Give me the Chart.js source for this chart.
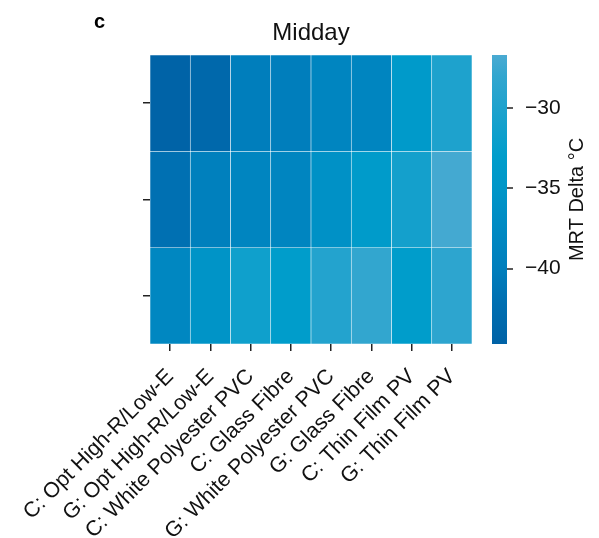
<!DOCTYPE html>
<html>
<head>
<meta charset="utf-8">
<script src="https://cdn.jsdelivr.net/npm/chart.js@4"></script>
<style>
  body { margin: 0; background: #fff; }
  canvas { display: block; }
</style>
</head>
<body>
<canvas id="heatChart" width="599" height="538"></canvas>
<script>
// heatmap data, rows top to bottom
var columns = ['C: Opt High-R/Low-E', 'G: Opt High-R/Low-E', 'C: White Polyester PVC', 'C: Glass Fibre',
  'G: White Polyester PVC', 'G: Glass Fibre', 'C: Thin Film PV', 'G: Thin Film PV'];
var rowLabels = ['', '', '']; // rows have no names in the figure
var row1 = [-44.5, -43.5, -40.0, -40.0, -38.5, -38.5, -34.0, -30.0];
var row2 = [-42.0, -39.5, -38.5, -38.5, -36.0, -33.5, -31.0, -27.0];
var row3 = [-38.0, -35.5, -31.5, -33.0, -29.5, -28.0, -33.0, -28.5];
var rows = [row1, row2, row3];

// colorbar
var cbMin = -44.7;
var cbMax = -26.7;
var cbTicks = [-40, -35, -30];
var cbStops = [
  [-44.7, [0, 98, 166]],
  [-42, [0, 112, 178]],
  [-40, [0, 126, 188]],
  [-37, [0, 140, 196]],
  [-35, [0, 150, 200]],
  [-33, [0, 157, 203]],
  [-30, [30, 162, 205]],
  [-28, [50, 166, 207]],
  [-26.7, [74, 170, 210]]
];

function colorFor(v) {
  if (v <= cbStops[0][0]) return 'rgb(' + cbStops[0][1].join(',') + ')';
  for (var i = 1; i < cbStops.length; i++) {
    if (v <= cbStops[i][0]) {
      var a = cbStops[i - 1], b = cbStops[i];
      var t = (v - a[0]) / (b[0] - a[0]);
      var c = a[1].map(function (x, k) { return Math.round(x + (b[1][k] - x) * t); });
      return 'rgb(' + c.join(',') + ')';
    }
  }
  return 'rgb(' + cbStops[cbStops.length - 1][1].join(',') + ')';
}

var FONT = "'Liberation Sans', Arial, Helvetica, sans-serif";

var colorbarPlugin = {
  id: 'colorbar',
  afterDraw: function (chart) {
    var ctx = chart.ctx;
    var s = chart.scales.cb;
    var x0 = 492, w = 15;
    var top = s.getPixelForValue(cbMax), bot = s.getPixelForValue(cbMin);
    var g = ctx.createLinearGradient(0, bot, 0, top);
    cbStops.forEach(function (st) {
      g.addColorStop((st[0] - cbMin) / (cbMax - cbMin), 'rgb(' + st[1].join(',') + ')');
    });
    ctx.save();
    ctx.fillStyle = g;
    ctx.fillRect(x0, top, w, bot - top);
    ctx.strokeStyle = '#222';
    ctx.lineWidth = 1.5;
    cbTicks.forEach(function (v) {
      var y = Math.round(s.getPixelForValue(v));
      ctx.beginPath();
      ctx.moveTo(x0 + w, y);
      ctx.lineTo(x0 + w + 6, y);
      ctx.stroke();
    });
    // colorbar label
    ctx.fillStyle = '#111';
    ctx.font = '20px ' + FONT;
    ctx.textAlign = 'center';
    ctx.textBaseline = 'middle';
    ctx.translate(577, (top + bot) / 2);
    ctx.rotate(-Math.PI / 2);
    ctx.fillText('MRT Delta \u00B0C', 0, 0);
    ctx.restore();
    // panel letter
    ctx.save();
    ctx.fillStyle = '#000';
    ctx.font = 'bold 20px ' + FONT;
    ctx.textAlign = 'left';
    ctx.textBaseline = 'alphabetic';
    ctx.fillText('c', 94, 28);
    ctx.restore();
  }
};

var hctx = document.getElementById('heatChart').getContext('2d');
var heatChart = new Chart(hctx, {
  type: 'bar',
  data: {
    labels: columns,
    datasets: rows.map(function (vals, r) {
      return {
        label: 'row ' + (r + 1),
        data: vals.map(function () { return [r, r + 1]; }),
        backgroundColor: vals.map(colorFor),
        borderColor: 'rgba(255,255,255,0.45)',
        borderWidth: 0.6,
        borderSkipped: false,
        barPercentage: 1,
        categoryPercentage: 1,
        grouped: false
      };
    })
  },
  options: {
    responsive: false,
    animation: false,
    devicePixelRatio: 1,
    layout: { padding: 0 },
    plugins: {
      legend: { display: false },
      tooltip: { enabled: false },
      title: {
        display: true,
        text: 'Midday',
        fullSize: false,
        color: '#111',
        font: { family: FONT, size: 24, weight: 'normal' },
        padding: { top: 19, bottom: 7.2 }
      }
    },
    scales: {
      x: {
        type: 'category',
        grid: { display: true, drawOnChartArea: false, offset: false, tickLength: 7, color: '#222', lineWidth: 1.5 },
        border: { display: false },
        ticks: {
          color: '#111',
          font: { family: FONT, size: 21.5 },
          minRotation: 45,
          maxRotation: 45,
          autoSkip: false,
          padding: 13
        },
        afterFit: function (s) { s.height = 194; }
      },
      y: {
        type: 'linear',
        min: 0,
        max: 3,
        reverse: true,
        afterBuildTicks: function (s) {
          s.ticks = rowLabels.map(function (_, i) { return { value: i + 0.5 }; });
        },
        grid: { display: true, drawOnChartArea: false, tickLength: 7, color: '#222', lineWidth: 1.5 },
        border: { display: false },
        ticks: {
          callback: function (v, i) { return rowLabels[i]; }
        },
        afterFit: function (s) { s.width = 150; }
      },
      cb: {
        type: 'linear',
        position: 'right',
        min: cbMin,
        max: cbMax,
        afterBuildTicks: function (s) {
          s.ticks = cbTicks.map(function (v) { return { value: v }; });
        },
        // invisible long tick marks push the labels past the colorbar
        grid: { display: true, drawOnChartArea: false, drawTicks: true, tickLength: 47, color: 'rgba(0,0,0,0)' },
        border: { display: false },
        ticks: {
          color: '#111',
          font: { family: FONT, size: 21 },
          padding: 6,
          callback: function (v) { return (v < 0 ? '\u2212' : '') + Math.abs(v); }
        },
        afterFit: function (s) { s.width = 127; }
      }
    }
  },
  plugins: [colorbarPlugin]
});
</script>
</body>
</html>
